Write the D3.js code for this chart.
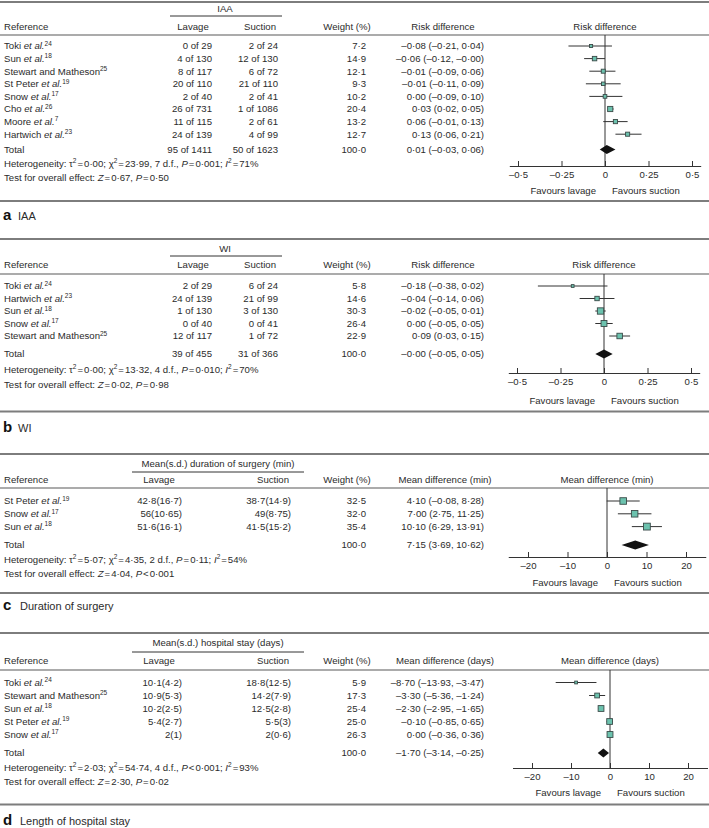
<!DOCTYPE html>
<html><head><meta charset="utf-8">
<script src="https://cdn.jsdelivr.net/npm/d3@7"></script>
<style>body{margin:0;background:#fff} svg{display:block;font-family:"Liberation Sans",Arial,sans-serif}</style>
</head><body><svg id="chart" width="709" height="828"></svg>
<script>
// ---------- Panel a: IAA ----------
const studiesA = ["Toki et al.", "Sun et al.", "Stewart and Matheson", "St Peter et al.", "Snow et al.", "Cho et al.", "Moore et al.", "Hartwich et al."];
const refsA = [24, 18, 25, 19, 17, 26, 7, 23];
const lavEvA = [0, 4, 8, 20, 2, 26, 11, 24];
const lavNA = [29, 130, 117, 110, 40, 731, 115, 139];
const sucEvA = [2, 12, 6, 21, 2, 1, 2, 4];
const sucNA = [24, 130, 72, 110, 41, 1086, 61, 99];
const weightA = [7.2, 14.9, 12.1, 9.3, 10.2, 20.4, 13.2, 12.7];
const estA = [-0.08, -0.06, -0.01, -0.01, 0.00, 0.03, 0.06, 0.13];
const loA = [-0.21, -0.12, -0.09, -0.11, -0.09, 0.02, -0.01, 0.06];
const hiA = [0.04, -0.00, 0.06, 0.09, 0.10, 0.05, 0.13, 0.21];
const totalA = {lav: "95 of 1411", suc: "50 of 1623", est: 0.01, lo: -0.03, hi: 0.06};

// ---------- Panel b: WI ----------
const studiesB = ["Toki et al.", "Hartwich et al.", "Sun et al.", "Snow et al.", "Stewart and Matheson"];
const refsB = [24, 23, 18, 17, 25];
const lavEvB = [2, 24, 1, 0, 12];
const lavNB = [29, 139, 130, 40, 117];
const sucEvB = [6, 21, 3, 0, 1];
const sucNB = [24, 99, 130, 41, 72];
const weightB = [5.8, 14.6, 30.3, 26.4, 22.9];
const estB = [-0.18, -0.04, -0.02, 0.00, 0.09];
const loB = [-0.38, -0.14, -0.05, -0.05, 0.03];
const hiB = [0.02, 0.06, 0.01, 0.05, 0.15];
const totalB = {lav: "39 of 455", suc: "31 of 366", est: -0.00, lo: -0.05, hi: 0.05};

// ---------- Panel c: Duration of surgery ----------
const studiesC = ["St Peter et al.", "Snow et al.", "Sun et al."];
const refsC = [19, 17, 18];
const lavMeanC = [42.8, 56, 51.6];
const lavSdC = [16.7, 10.65, 16.1];
const sucMeanC = [38.7, 49, 41.5];
const sucSdC = [14.9, 8.75, 15.2];
const weightC = [32.5, 32.0, 35.4];
const estC = [4.10, 7.00, 10.10];
const loC = [-0.08, 2.75, 6.29];
const hiC = [8.28, 11.25, 13.91];
const totalC = {est: 7.15, lo: 3.69, hi: 10.62};

// ---------- Panel d: Length of hospital stay ----------
const studiesD = ["Toki et al.", "Stewart and Matheson", "Sun et al.", "St Peter et al.", "Snow et al."];
const refsD = [24, 25, 18, 19, 17];
const lavMeanD = [10.1, 10.9, 10.2, 5.4, 2];
const lavSdD = [4.2, 5.3, 2.5, 2.7, 1];
const sucMeanD = [18.8, 14.2, 12.5, 5.5, 2];
const sucSdD = [12.5, 7.9, 2.8, 3, 0.6];
const weightD = [5.9, 17.3, 25.4, 25.0, 26.3];
const estD = [-8.70, -3.30, -2.30, -0.10, 0.00];
const loD = [-13.93, -5.36, -2.95, -0.85, -0.36];
const hiD = [-3.47, -1.24, -1.65, 0.65, 0.36];
const totalD = {est: -1.70, lo: -3.14, hi: -0.25};

// ---------- Heterogeneity / overall effect ----------
const hetTau2 = [0.00, 0.00, 5.07, 2.03];
const hetChi2 = [23.99, 13.32, 4.35, 54.74];
const hetDf = [7, 4, 2, 4];
const hetP = ["= 0.001", "= 0.010", "= 0.11", "< 0.001"];
const hetI2 = [71, 70, 54, 93];
const testZ = [0.67, 0.02, 4.04, 2.30];
const testP = ["= 0.50", "= 0.98", "< 0.001", "= 0.02"];

// ---------- Labels ----------
const panelLetters = ["a", "b", "c", "d"];
const panelCaptions = ["IAA", "WI", "Duration of surgery", "Length of hospital stay"];
const groupTitles = ["IAA", "WI", "Mean(s.d.) duration of surgery (min)", "Mean(s.d.) hospital stay (days)"];
const effectTitles = ["Risk difference", "Risk difference", "Mean difference (min)", "Mean difference (days)"];
const ticksAB = [-0.5, -0.25, 0, 0.25, 0.5];
const ticksCD = [-20, -10, 0, 10, 20];

// ---------- helpers ----------
const svg = d3.select("#chart");
svg.append("rect").attr("width", 709).attr("height", 828).attr("fill", "#fff");
const TXT = "#2b2b2b", FS = 9.6;
const dot = s => String(s).replace(/\./g, "·");
const fmtNum = (v, d) => { const neg = v < 0 || Object.is(v, -0); return (neg ? "–" : "") + Math.abs(v).toFixed(d).replace(".", "·"); };
const fmtCI = (e, l, h) => `${fmtNum(e, 2)} (${fmtNum(l, 2)}, ${fmtNum(h, 2)})`;
const fmtTick = v => v === 0 ? "0" : (v < 0 ? "–" : "") + dot(Math.abs(v));

function text(g, x, y, s, anchor) {
  return g.append("text").attr("x", x).attr("y", y).attr("dy", "0.35em")
    .attr("text-anchor", anchor || "start").attr("font-size", FS).attr("fill", TXT).text(s);
}
function rich(g, x, y, segs) {
  const t = g.append("text").attr("x", x).attr("y", y).attr("dy", "0.35em").attr("font-size", FS).attr("fill", TXT);
  let raised = false;
  segs.forEach(s => {
    const sp = t.append("tspan").text(s.t);
    if (s.i) sp.attr("font-style", "italic");
    if (s.dx) sp.attr("dx", s.dx);
    if (s.sup) { sp.attr("font-size", 6.5).attr("dy", raised ? 0 : -3.6); raised = true; }
    else if (raised) { sp.attr("dy", 3.6); raised = false; }
  });
  return t;
}
// an operator with tight spacing, followed by a value
const op = (o, v) => [{t: o, dx: 1}, {t: v, dx: 1}];
function studyLabel(g, x, y, name, ref) {
  const parts = name.split(" et al.");
  const segs = [{t: parts[0]}];
  if (name.includes(" et al.")) segs.push({t: " et al.", i: true});
  segs.push({t: String(ref), sup: true});
  rich(g, x, y, segs);
}

function drawPanel(p) {
  const g = svg.append("g");
  const L = p.layout;
  // rules
  g.append("line").attr("x1", 0).attr("x2", 709).attr("y1", L.top).attr("y2", L.top).attr("stroke", "#7d7d7d").attr("stroke-width", 2);
  g.append("line").attr("x1", 0).attr("x2", 709).attr("y1", L.hrule).attr("y2", L.hrule).attr("stroke", "#8f8f8f").attr("stroke-width", 1.3);
  g.append("line").attr("x1", 0).attr("x2", 709).attr("y1", L.bottom).attr("y2", L.bottom).attr("stroke", "#7d7d7d").attr("stroke-width", 2);
  // group title + underline
  text(g, p.cols.groupC, L.title, groupTitles[p.i], "middle");
  g.append("line").attr("x1", p.cols.ulL).attr("x2", p.cols.ulR).attr("y1", L.underline).attr("y2", L.underline).attr("stroke", "#333").attr("stroke-width", 1);
  // headers
  text(g, 4, L.header, "Reference");
  text(g, p.cols.lavH, L.header, "Lavage", "middle");
  text(g, p.cols.sucH, L.header, "Suction", "middle");
  text(g, 347, L.header, "Weight (%)", "middle");
  text(g, p.cols.effH, L.header, effectTitles[p.i], "middle");

  const x = d3.scaleLinear().domain(p.domain).range(p.range);
  text(g, x(0), L.header, effectTitles[p.i], "middle");

  const n = p.studies.length;
  const y = d3.scaleLinear().domain([0, 1]).range([L.row0, L.row0 + L.step]);

  // zero line
  g.append("line").attr("x1", x(0)).attr("x2", x(0)).attr("y1", L.hrule).attr("y2", L.axis).attr("stroke", "#333").attr("stroke-width", 1);

  for (let k = 0; k < n; k++) {
    const yy = y(k);
    studyLabel(g, 4, yy, p.studies[k], p.refs[k]);
    text(g, p.cols.lavR, yy, p.lavTxt[k], "end");
    text(g, p.cols.sucR, yy, p.sucTxt[k], "end");
    text(g, 366, yy, fmtNum(p.weight[k], 1), "end");
    text(g, 484, yy, fmtCI(p.est[k], p.lo[k], p.hi[k]), "end");
    g.append("line").attr("x1", x(p.lo[k])).attr("x2", x(p.hi[k])).attr("y1", yy).attr("y2", yy).attr("stroke", "#333").attr("stroke-width", 1);
    const s = 1.15 * Math.sqrt(p.weight[k]);
    g.append("rect").attr("x", x(p.est[k]) - s / 2).attr("y", yy - s / 2).attr("width", s).attr("height", s)
      .attr("fill", "#6cc2ae").attr("stroke", "#3a4a48").attr("stroke-width", 0.9);
  }
  // total
  const T = p.total;
  text(g, 4, L.total, "Total");
  if (T.lav) { text(g, p.cols.lavR, L.total, T.lav, "end"); text(g, p.cols.sucR, L.total, T.suc, "end"); }
  text(g, 366, L.total, fmtNum(100, 1), "end");
  text(g, 484, L.total, fmtCI(T.est, T.lo, T.hi), "end");
  const dh = 4.6;
  g.append("polygon").attr("points", [[x(T.lo), L.total], [x(T.est), L.total - dh], [x(T.hi), L.total], [x(T.est), L.total + dh]].map(d => d.join(",")).join(" "))
    .attr("fill", "#111");

  // heterogeneity & test
  const hp = hetP[p.i].split(" ");
  rich(g, 4, L.het, [
    {t: "Heterogeneity: τ"}, {t: "2", sup: true}, ...op("=", fmtNum(hetTau2[p.i], 2) + "; χ"), {t: "2", sup: true},
    ...op("=", fmtNum(hetChi2[p.i], 2) + ", " + hetDf[p.i] + " d.f., "), {t: "P", i: true}, ...op(hp[0], dot(hp[1]) + "; "),
    {t: "I", i: true}, {t: "2", sup: true}, ...op("=", hetI2[p.i] + "%")
  ]);
  const tp = testP[p.i].split(" ");
  rich(g, 4, L.test, [
    {t: "Test for overall effect: "}, {t: "Z", i: true}, ...op("=", fmtNum(testZ[p.i], 2) + ", "), {t: "P", i: true}, ...op(tp[0], dot(tp[1]))
  ]);

  // axis
  const ax = d3.axisBottom(x).tickValues(p.ticks).tickSize(-5).tickSizeOuter(0).tickPadding(5).tickFormat(fmtTick);
  const ag = g.append("g").attr("transform", `translate(0,${L.axis})`).call(ax);
  ag.select(".domain").attr("stroke", "#333");
  ag.selectAll(".tick line").attr("stroke", "#333");
  ag.selectAll(".tick text").attr("font-size", FS).attr("fill", TXT).attr("font-family", "Liberation Sans, Arial, sans-serif");
  text(g, x(0) - 9, L.fav, "Favours lavage", "end");
  text(g, x(0) + 7, L.fav, "Favours suction", "start");

  // caption
  g.append("text").attr("x", 3).attr("y", L.caption).attr("dy", "0.35em").attr("font-size", 15).attr("font-weight", "bold").attr("fill", "#111").text(panelLetters[p.i]);
  g.append("text").attr("x", p.i < 2 ? 18 : 20).attr("y", L.caption + 1).attr("dy", "0.35em").attr("font-size", 11).attr("fill", TXT).text(panelCaptions[p.i]);
}

const colsAB = {groupC: 225, ulL: 170, ulR: 282, lavH: 193, sucH: 260, lavR: 212, sucR: 278, effH: 443};
const colsCD = {groupC: 218, ulL: 132, ulR: 304, lavH: 159, sucH: 273, lavR: 182, sucR: 291, effH: 445};
const evTxt = (e, n) => e.map((v, k) => `${v} of ${n[k]}`);
const msdTxt = (m, s) => m.map((v, k) => `${dot(v)}(${dot(s[k])})`);

drawPanel({i: 0, studies: studiesA, refs: refsA, lavTxt: evTxt(lavEvA, lavNA), sucTxt: evTxt(sucEvA, sucNA), weight: weightA, est: estA, lo: loA, hi: hiA, total: totalA,
  cols: colsAB, domain: [-0.55, 0.55], range: [605 - 0.55 * 174, 605 + 0.55 * 174], ticks: ticksAB,
  layout: {top: 2, title: 9, underline: 16, header: 27, hrule: 35, row0: 46, step: 12.6, total: 149.5, het: 163.5, test: 177.5, axis: 166, fav: 191, bottom: 201, caption: 215}});
drawPanel({i: 1, studies: studiesB, refs: refsB, lavTxt: evTxt(lavEvB, lavNB), sucTxt: evTxt(sucEvB, sucNB), weight: weightB, est: estB, lo: loB, hi: hiB, total: totalB,
  cols: colsAB, domain: [-0.55, 0.55], range: [604 - 0.55 * 174, 604 + 0.55 * 174], ticks: ticksAB,
  layout: {top: 239, title: 249, underline: 256, header: 265, hrule: 274, row0: 286, step: 12.5, total: 354, het: 369.5, test: 384.5, axis: 373, fav: 401, bottom: 411.5, caption: 427}});
drawPanel({i: 2, studies: studiesC, refs: refsC, lavTxt: msdTxt(lavMeanC, lavSdC), sucTxt: msdTxt(sucMeanC, sucSdC), weight: weightC, est: estC, lo: loC, hi: hiC, total: totalC,
  cols: colsCD, domain: [-25, 25], range: [607 - 25 * 3.95, 607 + 25 * 3.95], ticks: ticksCD,
  layout: {top: 454, title: 464, underline: 472, header: 480, hrule: 488, row0: 501, step: 12.8, total: 545, het: 559.5, test: 574, axis: 557, fav: 583, bottom: 593, caption: 605}});
drawPanel({i: 3, studies: studiesD, refs: refsD, lavTxt: msdTxt(lavMeanD, lavSdD), sucTxt: msdTxt(sucMeanD, sucSdD), weight: weightD, est: estD, lo: loD, hi: hiD, total: totalD,
  cols: colsCD, domain: [-25, 25], range: [610 - 25 * 3.9, 610 + 25 * 3.9], ticks: ticksCD,
  layout: {top: 633, title: 643, underline: 652, header: 661, hrule: 670, row0: 682.5, step: 13, total: 753, het: 767.5, test: 782, axis: 768, fav: 793, bottom: 804.5, caption: 820}});
</script>
</body></html>
